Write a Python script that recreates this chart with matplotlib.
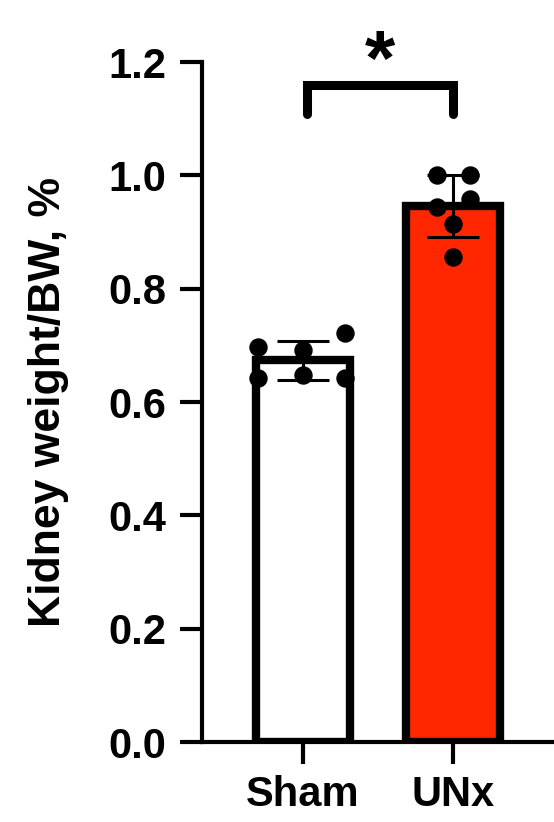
import numpy as np
import matplotlib
matplotlib.use("Agg")
import matplotlib.pyplot as plt

plt.rcParams['font.family'] = ['Liberation Sans', 'DejaVu Sans']
plt.rcParams['font.weight'] = 'bold'

# ---------------------- data ----------------------
groups = ["Sham", "UNx"]
sham_vals = [0.697, 0.692, 0.722, 0.642, 0.648, 0.642]
unx_vals = [1.000, 1.000, 0.944, 0.958, 0.914, 0.856]
bar_colors = ["white", "#FF2600"]
yticks = [0.0, 0.2, 0.4, 0.6, 0.8, 1.0, 1.2]
sig_label = "*"

# scatter spread of the points inside each bar (layout only)
spread = [[-0.30, 0.0, 0.28, -0.30, 0.0, 0.28],
          [-0.11, 0.11, -0.11, 0.11, 0.0, 0.0]]

data = [np.array(sham_vals), np.array(unx_vals)]
means = [d.mean() for d in data]
sds = [d.std(ddof=1) for d in data]
xpos = np.arange(len(groups))

# ---------------------- plot ----------------------
fig = plt.figure(figsize=(5.54, 8.22), dpi=100)
ax = fig.add_axes([202 / 554, 80 / 822, 1 - 202 / 554, 680 / 822])

ax.bar(xpos, means, width=0.625, color=bar_colors, edgecolor='black',
       linewidth=6, zorder=2)
ax.errorbar(xpos, means, yerr=sds, fmt='none', ecolor='black',
            elinewidth=2.2, capsize=19, capthick=2.2, zorder=3)
for i, d in enumerate(data):
    ax.scatter(xpos[i] + np.array(spread[i]), d, s=150, color='black',
               zorder=4, clip_on=False)

# significance bracket
y_br, y_low = 1.159, 1.108
ax.plot([0.03, 0.03, 1.0, 1.0], [y_low, y_br, y_br, y_low], color='black',
        lw=6.5, solid_capstyle='round', solid_joinstyle='miter', clip_on=False)
ax.text(0.515, 1.160, sig_label, ha='center', va='baseline', fontsize=56,
        fontweight='bold', clip_on=False)

ax.set_xlim(-0.673, 1.673)
ax.set_ylim(0, 1.2)
ax.set_yticks(yticks)
ax.set_yticklabels([f"{v:.1f}" for v in yticks])
ax.set_xticks(xpos)
ax.set_xticklabels(groups)
ax.set_ylabel("Kidney weight/BW, %", fontsize=32, fontweight='bold', labelpad=28)

for s in ['top', 'right']:
    ax.spines[s].set_visible(False)
for s in ['left', 'bottom']:
    ax.spines[s].set_linewidth(3)
ax.tick_params(axis='both', width=3, length=16, labelsize=30)
ax.tick_params(axis='y', pad=10)
ax.tick_params(axis='x', pad=8)

fig.savefig("out.png", dpi=100)
